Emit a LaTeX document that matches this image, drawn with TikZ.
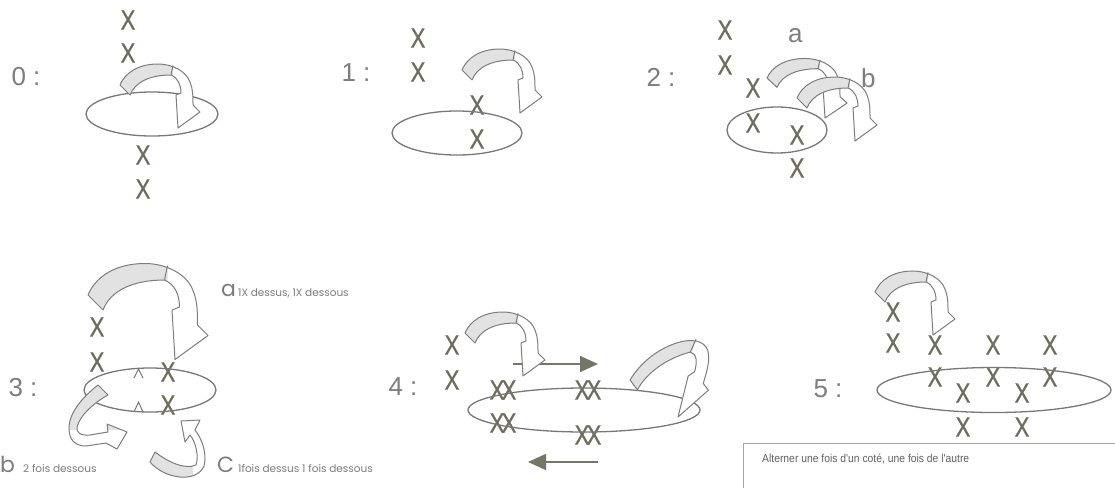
\documentclass[tikz,border=0pt]{standalone}
\usepackage{fontspec}
\setmainfont{Liberation Sans}
\newfontfamily\xf[FakeStretch=0.8,FakeBold=0.6]{Liberation Sans}
\newfontfamily\nf[FakeStretch=0.9]{Liberation Sans}
\newfontfamily\pf{Poppins}
\usetikzlibrary{arrows.meta}
\definecolor{xcol}{RGB}{110,108,92}
\definecolor{lblcol}{RGB}{125,125,125}
\definecolor{elcol}{RGB}{120,120,120}
\definecolor{arrcol}{RGB}{125,125,125}
\definecolor{bandcol}{RGB}{226,226,226}
\definecolor{a4col}{RGB}{118,118,104}
\definecolor{boxcol}{RGB}{165,165,165}
\tikzset{
  xm/.style={font=\xf\fontsize{28}{30}\selectfont, text=xcol, inner sep=0pt},
  num/.style={font=\fontsize{26}{30}\selectfont, text=lblcol, inner sep=0pt},
  biglbl/.style={font=\fontsize{26}{30}\selectfont, text=lblcol, inner sep=0pt, anchor=base west},
  plbl/.style={font=\pf\fontsize{22}{26}\selectfont, text=lblcol, inner sep=0pt, anchor=base west},
  smalllbl/.style={font=\pf\fontsize{10.5}{12}\selectfont, text=lblcol, inner sep=0pt, anchor=base west},
  ell/.style={draw=elcol, line width=1.3pt},
  curlline/.style={draw=arrcol, line width=1pt, line join=round},
  caret/.style={draw=elcol, line width=1pt},
  flat/.style={draw=a4col, line width=1.6pt, -{Triangle[length=18pt,width=16pt]}},
  curl/.pic={
    \path[fill=white] (0,0) .. controls (5,-12) and (18,-21) .. (38,-21) .. controls (52,-21) and (66,-14) .. (70,-3) .. controls (73,4) and (73,12) .. (73,20) -- (80,27) -- (58,43) -- (56,10) -- (61,8) .. controls (61,0) and (58,-7) .. (51,-10) .. controls (30,-10) and (15,-3) .. (10,10) -- cycle;
    \begin{scope}
      \clip (-10,-30) rectangle (53,20);
      \path[fill=bandcol] (0,0) .. controls (5,-12) and (18,-21) .. (38,-21) .. controls (52,-21) and (66,-14) .. (70,-3) .. controls (73,4) and (73,12) .. (73,20) -- (80,27) -- (58,43) -- (56,10) -- (61,8) .. controls (61,0) and (58,-7) .. (51,-10) .. controls (30,-10) and (15,-3) .. (10,10) -- cycle;
    \end{scope}
    \path[curlline] (0,0) .. controls (5,-12) and (18,-21) .. (38,-21) .. controls (52,-21) and (66,-14) .. (70,-3) .. controls (73,4) and (73,12) .. (73,20) -- (80,27) -- (58,43) -- (56,10) -- (61,8) .. controls (61,0) and (58,-7) .. (51,-10) .. controls (30,-10) and (15,-3) .. (10,10) -- cycle;
    \path[curlline] (53,-19.6) -- (51,-10);
  }
}
\newcommand\curlarr[2]{\begin{scope}[shift={#1},#2]\pic[transform shape]{curl};\end{scope}}
\begin{document}
\begin{tikzpicture}[x=1pt,y=-1pt]
\useasboundingbox (0,0) rectangle (1115,487);
\fill[white] (0,0) rectangle (1115,487);

% ---------- panel 0
\node[num] (n0) at (26,77) {0 :};
\node[xm] (x01) at (128,20) {X};
\node[xm] (x02) at (128,53) {X};
\node[xm] (x03) at (143,155) {X};
\node[xm] (x04) at (143,189) {X};
\draw[ell] (152,114) ellipse [x radius=66, y radius=22];
\curlarr{(120,85)}{}

% ---------- panel 1
\node[num] (n1) at (356,73) {1 :};
\node[xm] (x11) at (418,38) {X};
\node[xm] (x12) at (418,72) {X};
\node[xm] (x13) at (477,105) {X};
\node[xm] (x14) at (477,139) {X};
\draw[ell] (457,133) ellipse [x radius=65, y radius=22];
\curlarr{(462,70)}{}

% ---------- panel 2
\node[num] (n2) at (661,77) {2 :};
\node[xm] (x21) at (725,30) {X};
\node[xm] (x22) at (725,65) {X};
\node[xm] (x23) at (753,88) {X};
\node[xm] (x24) at (753,123) {X};
\node[xm] (x25) at (797,135) {X};
\node[xm] (x26) at (797,168) {X};
\draw[ell] (777,130) ellipse [x radius=50, y radius=23];
\node[biglbl] (la2) at (788,43) {a};
\node[biglbl] (lb2) at (861,87) {b};
\curlarr{(767,78)}{yscale=0.93}
\curlarr{(797,98)}{}

% ---------- panel 3
\node[num] (n3) at (23,388) {3 :};
\node[xm] (x31) at (97,327) {X};
\node[xm] (x32) at (97,362) {X};
\node[xm] (x33) at (168,372) {X};
\node[xm] (x34) at (168,405) {X};
\draw[caret] (134,378) -- (138.5,369) -- (143,378);
\draw[caret] (134,412) -- (138.5,402) -- (143,412);
\draw[ell] (150,390) ellipse [x radius=66, y radius=22];
\curlarr{(88,295)}{scale=1.5}
% arrow b
\path[fill=white] (98,385) .. controls (84,396) and (69,412) .. (69,428) .. controls (69,440) and (75,446) .. (86,446) -- (106,443) -- (117,449) -- (127,432) -- (107,424) -- (108,432) -- (90,435) .. controls (80,436) and (76,432) .. (77,427) .. controls (80,415) and (95,402) .. (108,395) -- cycle;
\begin{scope}
  \clip (50,370) rectangle (120,429);
  \path[fill=bandcol] (98,385) .. controls (84,396) and (69,412) .. (69,428) .. controls (69,440) and (75,446) .. (86,446) -- (106,443) -- (117,449) -- (127,432) -- (107,424) -- (108,432) -- (90,435) .. controls (80,436) and (76,432) .. (77,427) .. controls (80,415) and (95,402) .. (108,395) -- cycle;
\end{scope}
\path[curlline] (98,385) .. controls (84,396) and (69,412) .. (69,428) .. controls (69,440) and (75,446) .. (86,446) -- (106,443) -- (117,449) -- (127,432) -- (107,424) -- (108,432) -- (90,435) .. controls (80,436) and (76,432) .. (77,427) .. controls (80,415) and (95,402) .. (108,395) -- cycle;
% arrow c
\path[fill=white] (155,452) .. controls (168,462) and (185,470) .. (196,465) .. controls (199,457) and (196,442) .. (190,435) -- (185,442) -- (181,421) -- (200,420) -- (195,430) .. controls (203,440) and (207,455) .. (204,466) .. controls (200,475) and (190,478) .. (180,477) .. controls (168,476) and (157,470) .. (150,462) -- cycle;
\begin{scope}
  \clip (140,445) rectangle (193,485);
  \path[fill=bandcol] (155,452) .. controls (168,462) and (185,470) .. (196,465) .. controls (199,457) and (196,442) .. (190,435) -- (185,442) -- (181,421) -- (200,420) -- (195,430) .. controls (203,440) and (207,455) .. (204,466) .. controls (200,475) and (190,478) .. (180,477) .. controls (168,476) and (157,470) .. (150,462) -- cycle;
\end{scope}
\path[curlline] (155,452) .. controls (168,462) and (185,470) .. (196,465) .. controls (199,457) and (196,442) .. (190,435) -- (185,442) -- (181,421) -- (200,420) -- (195,430) .. controls (203,440) and (207,455) .. (204,466) .. controls (200,475) and (190,478) .. (180,477) .. controls (168,476) and (157,470) .. (150,462) -- cycle;
\node[plbl] (la3) at (221,296) {a};
\node[smalllbl] (ta3) at (238,296) {1X dessus, 1X dessous};
\node[plbl] (lb3) at (0,472) {b};
\node[smalllbl] (tb3) at (23,472) {2 fois dessous};
\node[plbl] (lc3) at (217,472) {C};
\node[smalllbl] (tc3) at (238,472) {1fois dessus 1 fois dessous};

% ---------- panel 4
\node[num] (n4) at (403,387) {4 :};
\node[xm] (x41) at (452,345) {X};
\node[xm] (x42) at (452,380) {X};
\node[xm] (x43) at (503,390) {X\kern-3pt X};
\node[xm] (x44) at (588,390) {X\kern-3pt X};
\node[xm] (x45) at (503,423) {X\kern-3pt X};
\node[xm] (x46) at (588,435) {X\kern-3pt X};
\draw[ell] (584,410) ellipse [x radius=116, y radius=22];
\coordinate (r1) at (513,364);
\coordinate (r2) at (598,364);
\coordinate (l1) at (598,462);
\coordinate (l2) at (528,462);
\draw[flat] (r1) -- (r2);
\draw[flat] (l1) -- (l2);
\curlarr{(465,333)}{}
\curlarr{(630,380)}{cm={1.107,0.300,0.377,1.266,(0,0)}}

% ---------- panel 5
\node[num] (n5) at (828,389) {5 :};
\node[xm] (x51) at (893,312) {X};
\node[xm] (x52) at (893,343) {X};
\node[xm] (x53) at (935,345) {X};
\node[xm] (x54) at (993,345) {X};
\node[xm] (x55) at (1050,345) {X};
\node[xm] (x56) at (935,377) {X};
\node[xm] (x57) at (993,377) {X};
\node[xm] (x58) at (1050,377) {X};
\node[xm] (x59) at (963,393) {X};
\node[xm] (x510) at (1022,393) {X};
\node[xm] (x511) at (963,427) {X};
\node[xm] (x512) at (1022,427) {X};
\draw[ell] (994,390) ellipse [x radius=117, y radius=22.5];
\curlarr{(875,292)}{}

% ---------- note box
\draw[boxcol, line width=1pt] (743,495) -- (743,443) -- (1120,443);
\node[font=\nf\fontsize{11.5}{14}\selectfont, text=black!62, inner sep=0pt, anchor=base west] (note) at (762,462) {Alterner une fois d'un coté, une fois de l'autre};
\end{tikzpicture}
\end{document}
